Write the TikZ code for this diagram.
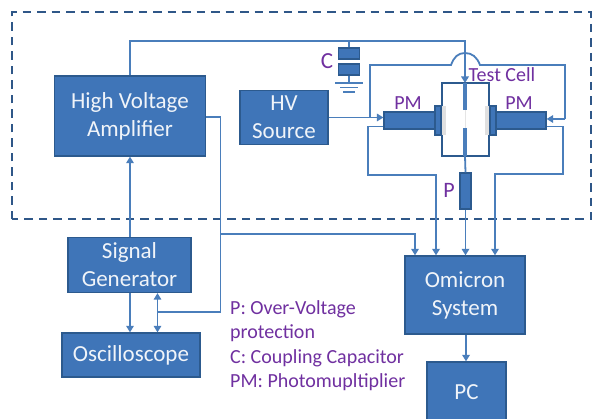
\documentclass[tikz,border=0pt]{standalone}
\usepackage{fontspec}
\setmainfont{Carlito}
\usetikzlibrary{arrows.meta}
\definecolor{boxfill}{HTML}{3F75B8}
\definecolor{boxedge}{HTML}{2C5A8E}
\definecolor{wire}{HTML}{4A7EBB}
\definecolor{dashc}{HTML}{2F5788}
\definecolor{lab}{HTML}{7030A0}
\tikzset{
  x=1pt,y=-1pt,
  bx/.style={draw=boxedge,fill=boxfill,line width=1.3pt,text=white!92!boxfill,align=center,inner sep=0pt,font=\fontsize{23}{28}\selectfont},
  part/.style={draw=boxedge,fill=boxfill,line width=1.2pt,inner sep=0pt},
  wr/.style={draw=wire,line width=1.8pt},
  arr/.style={wr,-{Triangle[length=6.5pt,width=7.5pt]}},
  arrb/.style={wr,{Triangle[length=6.5pt,width=7.5pt]}-{Triangle[length=6.5pt,width=7.5pt]}},
  lbl/.style={text=lab,inner sep=0pt,font=\fontsize{20}{22}\selectfont},
  legend/.style={text=lab,inner sep=0pt,anchor=west,font=\fontsize{20}{22}\selectfont},
}
\begin{document}
\begin{tikzpicture}
\useasboundingbox (0,0) rectangle (592,419);
\fill[white] (0,0) rectangle (592,419);
% dashed enclosure
\coordinate (dl) at (12,219.5);
\coordinate (dt) at (12,12.5);
\coordinate (dr) at (591,12.5);
\coordinate (drb) at (591,219.5);
\draw[dashc,line width=2pt,dash pattern=on 8.5pt off 6pt] (dl) -- (dt) -- (dr) -- (drb) -- cycle;
% boxes
\node[bx,minimum width=151pt,minimum height=80pt] (hva) at (130,116) {\raisebox{4.5pt}{\parbox{150pt}{\centering High Voltage\\Amplifier}}};
\node[bx,minimum width=88pt,minimum height=54pt] (hv) at (284,117.5) {\raisebox{-2pt}{\parbox{87pt}{\centering HV\\Source}}};
\node[bx,minimum width=123pt,minimum height=55pt] (sg) at (129.5,265) {Signal\\Generator};
\node[bx,minimum width=138pt,minimum height=44pt] (osc) at (131,355) {Oscilloscope};
\node[bx,minimum width=120pt,minimum height=78pt] (om) at (465,295) {\raisebox{-5.5pt}{\parbox{118pt}{\centering Omicron\\System}}};
\node[bx,minimum width=79pt,minimum height=60pt] (pc) at (466.5,392) {PC};
% test cell and parts
\fill[black!12] (441,106) rectangle (446,135);
\fill[black!12] (485,106) rectangle (490,135);
\coordinate (tctl) at (442,83);
\coordinate (tctr) at (489,83);
\coordinate (tcbl) at (442,156);
\coordinate (tcbr) at (489,156);
\draw[boxedge,line width=2.3pt,line join=miter] (442,106) -- (tctl) -- (tctr) -- (489,106);
\draw[boxedge,line width=2.3pt,line join=miter] (442,135) -- (tcbl) -- (tcbr) -- (489,135);
\node[part,minimum width=51pt,minimum height=17pt] (pml) at (409.5,120.5) {};
\node[part,minimum width=50pt,minimum height=17pt] (pmr) at (521,120.5) {};
\node[part,minimum width=6pt,minimum height=29pt] (fll) at (438,120.5) {};
\node[part,minimum width=6pt,minimum height=29pt] (flr) at (493,120.5) {};
\node[part,minimum width=11pt,minimum height=36pt] (p) at (465.5,191) {};
% capacitor
\node[part,minimum width=21pt,minimum height=11pt] (c1) at (349,53.5) {};
\node[part,minimum width=21pt,minimum height=11pt] (c2) at (349,69.5) {};
\coordinate (g1) at (349,83);
\draw[wire,line width=1.5pt] (335,83) -- (363,83);
\draw[wire,line width=1.5pt] (340,87.5) -- (358,87.5);
\draw[wire,line width=1.5pt] (343,92) -- (355,92);
\draw[wr] (c2.south) -- (g1);
% wires
\coordinate (top) at (465,41);
\coordinate (cellin) at (465,83);
\draw[wr] (c1.north) -- (349,41);
\draw[arr] (hva.north) -- (130,41) -- (top) -- (cellin);
% electrode
\draw[wire,line width=3.2pt] (cellin) -- (465,110);
\draw[black!10,line width=1pt] (465,110) -- (465,128);
\draw[wire,line width=3.2pt] (465,128) -- (465,156);
\draw[wr] (465,156) -- (p.north);
\draw[arr] (p.south) -- (om.north -| p.south);
% HV feed with bridge
\coordinate (hvj) at (370,117.5);
\draw[arr] (hv.east |- hvj) -- (hvj) -- (pml.west |- hvj);
\draw[wr] (hvj) -- (370,65) -- (451,65) .. controls (454,57) and (458,53) .. (465,53) .. controls (472,53) and (477,57) .. (480,65) -- (565,65) -- (565,119);
\draw[arr] (565,119) -- (pmr.east |- 0,119);
% PM outputs
\draw[arr] (pml.west |- 0,126.5) -- (368,126.5) -- (368,175) -- (436,175) -- (om.north -| 436,0);
\draw[arr] (pmr.east |- 0,126.5) -- (563,126.5) -- (563,174) -- (495,174) -- (om.north -| 495,0);
\draw[arr] (om.south -| 466,0) -- (pc.north -| 466,0);
% left side
\draw[arr] (sg.north -| 130,0) -- (hva.south -| 130,0);
\draw[arr] (sg.south -| 130,0) -- (osc.north -| 130,0);
\draw[arrb] (sg.south -| 157.5,0) -- (osc.north -| 157.5,0);
\coordinate (jn) at (157.5,312);
\coordinate (br) at (220.5,234);
\draw[wr] (hva.east |- 0,117) -- (220.5,117) -- (br) -- (220.5,312) -- (jn);
\draw[arr] (br) -- (415,234) -- (om.north -| 415,0);
% labels
\node[lbl,font=\fontsize{23}{24}\selectfont] (lc) at (327,61) {C};
\node[lbl] (lpm1) at (408,103) {PM};
\node[lbl] (lpm2) at (519,103) {PM};
\node[lbl,font=\fontsize{22}{24}\selectfont] (lp) at (449,190) {P};
\node[lbl] (ltc) at (502,75) {Test Cell};
\node[legend] (l1) at (230,309) {P: Over-Voltage};
\node[legend] (l2) at (230,333) {protection};
\node[legend] (l3) at (230,358) {C: Coupling Capacitor};
\node[legend] (l4) at (230,382) {PM: Photomupltiplier};
\end{tikzpicture}
\end{document}
